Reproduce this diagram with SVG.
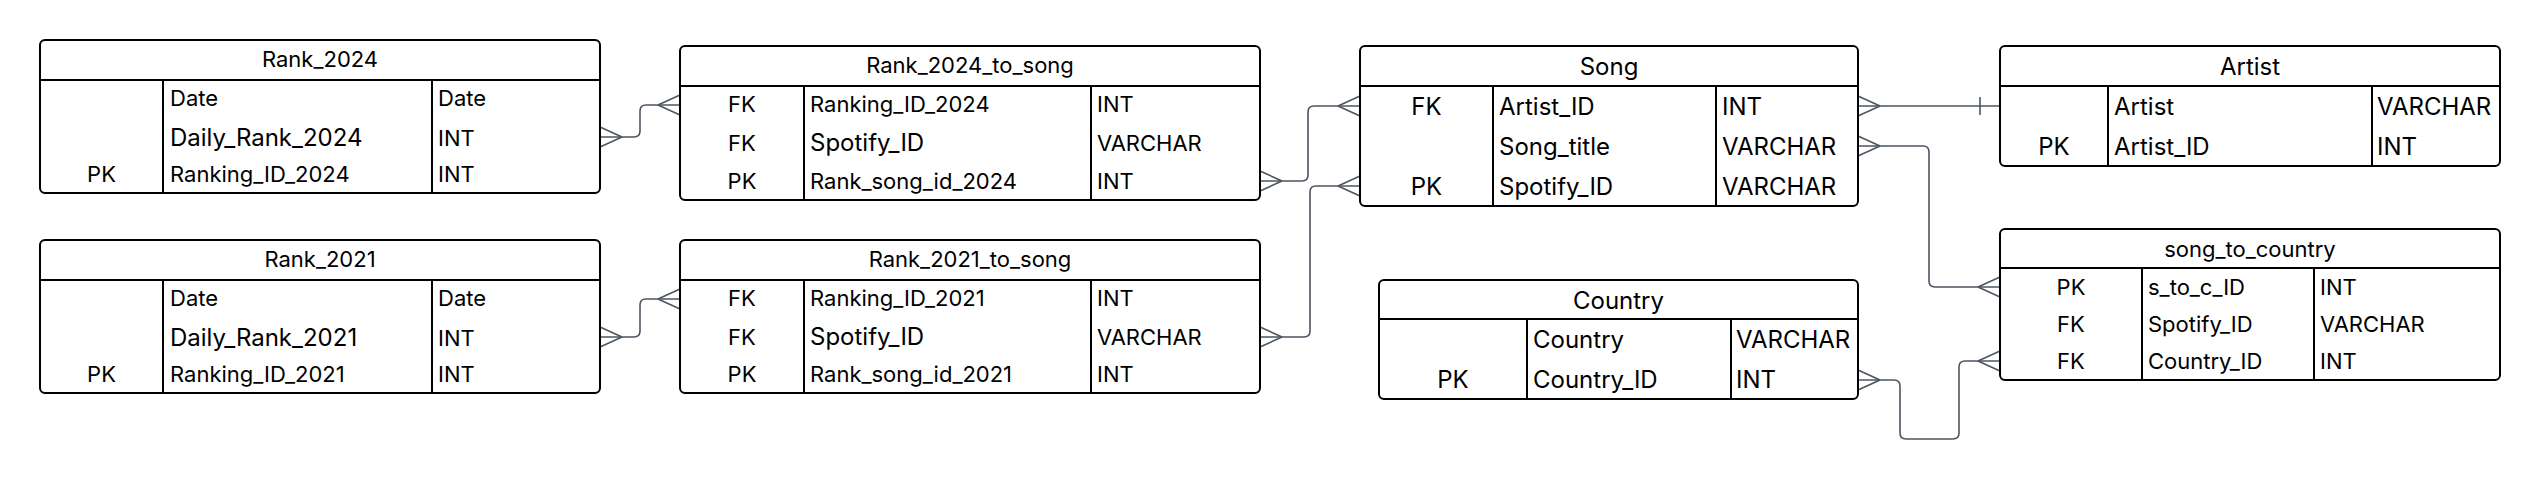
<svg xmlns="http://www.w3.org/2000/svg" width="2540" height="480" viewBox="0 0 2540 480">
<style>
.bg{fill:#fff}
.box{fill:#fff;stroke:#000;stroke-width:2}
.ln{stroke:#000;stroke-width:2;fill:none}
.t{font-family:Inter,"Liberation Sans",sans-serif;fill:#000}
.s{font-size:22px}
.l{font-size:24px}
.c{text-anchor:middle}
.conn{fill:none;stroke:#4d5562;stroke-width:1.6}
.mk{fill:none;stroke:#4d5562;stroke-width:1.6}
</style>
<defs>
<marker id="many" viewBox="-26 -13 28 26" refX="0" refY="0" markerWidth="28" markerHeight="26" markerUnits="userSpaceOnUse" orient="auto-start-reverse">
<path class="mk" d="M-22 0 L0 -10 M-22 0 L0 10"/>
</marker>
<marker id="one" viewBox="-26 -13 28 26" refX="0" refY="0" markerWidth="28" markerHeight="26" markerUnits="userSpaceOnUse" orient="auto-start-reverse">
<path class="mk" d="M-20 -9 L-20 9"/>
</marker>
</defs>
<rect class="bg" x="0" y="0" width="2540" height="480"/>

<g id="connectors">
<path class="conn" marker-start="url(#many)" marker-end="url(#many)" d="M600 137 H634 Q640 137 640 131 V111 Q640 105 646 105 H680"/>
<path class="conn" marker-start="url(#many)" marker-end="url(#many)" d="M600 337 H634 Q640 337 640 331 V305 Q640 299 646 299 H680"/>
<path class="conn" marker-start="url(#many)" marker-end="url(#many)" d="M1260 181 H1302 Q1308 181 1308 175 V112 Q1308 106 1314 106 H1360"/>
<path class="conn" marker-start="url(#many)" marker-end="url(#many)" d="M1260 337 H1304 Q1310 337 1310 331 V192 Q1310 186 1316 186 H1360"/>
<path class="conn" marker-start="url(#many)" marker-end="url(#one)" d="M1858 106 H2000"/>
<path class="conn" marker-start="url(#many)" marker-end="url(#many)" d="M1858 146 H1923 Q1929 146 1929 152 V281 Q1929 287 1935 287 H2000"/>
<path class="conn" marker-start="url(#many)" marker-end="url(#many)" d="M1858 380 H1894 Q1900 380 1900 386 V433 Q1900 439 1906 439 H1953 Q1959 439 1959 433 V367 Q1959 361 1965 361 H2000"/>
</g>

<g id="Rank_2024">
<rect class="box" x="40" y="40" width="560" height="153" rx="5"/>
<path class="ln" d="M40 80 H600 M163 80 V193 M432 80 V193"/>
<text class="t s c" x="320" y="67">Rank_2024</text>
<text class="t s" x="170" y="106">Date</text>
<text class="t s" x="438" y="106">Date</text>
<text class="t l" x="170" y="146">Daily_Rank_2024</text>
<text class="t s" x="438" y="146">INT</text>
<text class="t s c" x="101.5" y="182">PK</text>
<text class="t s" x="170" y="182">Ranking_ID_2024</text>
<text class="t s" x="438" y="182">INT</text>
</g>

<g id="Rank_2021">
<rect class="box" x="40" y="240" width="560" height="153" rx="5"/>
<path class="ln" d="M40 280 H600 M163 280 V393 M432 280 V393"/>
<text class="t s c" x="320" y="267">Rank_2021</text>
<text class="t s" x="170" y="306">Date</text>
<text class="t s" x="438" y="306">Date</text>
<text class="t l" x="170" y="346">Daily_Rank_2021</text>
<text class="t s" x="438" y="346">INT</text>
<text class="t s c" x="101.5" y="382">PK</text>
<text class="t s" x="170" y="382">Ranking_ID_2021</text>
<text class="t s" x="438" y="382">INT</text>
</g>

<g id="Rank_2024_to_song">
<rect class="box" x="680" y="46" width="580" height="154" rx="5"/>
<path class="ln" d="M680 86 H1260 M804 86 V200 M1091 86 V200"/>
<text class="t s c" x="970" y="73">Rank_2024_to_song</text>
<text class="t s c" x="742" y="112">FK</text>
<text class="t s" x="810" y="112">Ranking_ID_2024</text>
<text class="t s" x="1097" y="112">INT</text>
<text class="t s c" x="742" y="151">FK</text>
<text class="t l" x="810" y="151">Spotify_ID</text>
<text class="t s" x="1097" y="151">VARCHAR</text>
<text class="t s c" x="742" y="189">PK</text>
<text class="t s" x="810" y="189">Rank_song_id_2024</text>
<text class="t s" x="1097" y="189">INT</text>
</g>

<g id="Rank_2021_to_song">
<rect class="box" x="680" y="240" width="580" height="153" rx="5"/>
<path class="ln" d="M680 280 H1260 M804 280 V393 M1091 280 V393"/>
<text class="t s c" x="970" y="267">Rank_2021_to_song</text>
<text class="t s c" x="742" y="306">FK</text>
<text class="t s" x="810" y="306">Ranking_ID_2021</text>
<text class="t s" x="1097" y="306">INT</text>
<text class="t s c" x="742" y="345">FK</text>
<text class="t l" x="810" y="345">Spotify_ID</text>
<text class="t s" x="1097" y="345">VARCHAR</text>
<text class="t s c" x="742" y="382">PK</text>
<text class="t s" x="810" y="382">Rank_song_id_2021</text>
<text class="t s" x="1097" y="382">INT</text>
</g>

<g id="Song">
<rect class="box" x="1360" y="46" width="498" height="160" rx="5"/>
<path class="ln" d="M1360 86 H1858 M1493 86 V206 M1716 86 V206"/>
<text class="t l c" x="1609" y="75">Song</text>
<text class="t l c" x="1426.5" y="115">FK</text>
<text class="t l" x="1499" y="115">Artist_ID</text>
<text class="t l" x="1722" y="115">INT</text>
<text class="t l" x="1499" y="154.5">Song_title</text>
<text class="t l" x="1722" y="154.5">VARCHAR</text>
<text class="t l c" x="1426.5" y="194.5">PK</text>
<text class="t l" x="1499" y="194.5">Spotify_ID</text>
<text class="t l" x="1722" y="194.5">VARCHAR</text>
</g>

<g id="Country">
<rect class="box" x="1379" y="280" width="479" height="119" rx="5"/>
<path class="ln" d="M1379 319 H1858 M1527 319 V399 M1731 319 V399"/>
<text class="t l c" x="1618.5" y="309">Country</text>
<text class="t l" x="1533" y="348">Country</text>
<text class="t l" x="1736" y="348">VARCHAR</text>
<text class="t l c" x="1453" y="388">PK</text>
<text class="t l" x="1533" y="388">Country_ID</text>
<text class="t l" x="1736" y="388">INT</text>
</g>

<g id="Artist">
<rect class="box" x="2000" y="46" width="500" height="120" rx="5"/>
<path class="ln" d="M2000 86 H2500 M2108 86 V166 M2372 86 V166"/>
<text class="t l c" x="2250" y="75">Artist</text>
<text class="t l" x="2114" y="115">Artist</text>
<text class="t l" x="2377" y="115">VARCHAR</text>
<text class="t l c" x="2054" y="155">PK</text>
<text class="t l" x="2114" y="155">Artist_ID</text>
<text class="t l" x="2377" y="155">INT</text>
</g>

<g id="song_to_country">
<rect class="box" x="2000" y="229" width="500" height="151" rx="5"/>
<path class="ln" d="M2000 268 H2500 M2142 268 V380 M2314 268 V380"/>
<text class="t s c" x="2250" y="257">song_to_country</text>
<text class="t s c" x="2071" y="295">PK</text>
<text class="t s" x="2148" y="295">s_to_c_ID</text>
<text class="t s" x="2320" y="295">INT</text>
<text class="t s c" x="2071" y="332">FK</text>
<text class="t s" x="2148" y="332">Spotify_ID</text>
<text class="t s" x="2320" y="332">VARCHAR</text>
<text class="t s c" x="2071" y="369">FK</text>
<text class="t s" x="2148" y="369">Country_ID</text>
<text class="t s" x="2320" y="369">INT</text>
</g>
</svg>
